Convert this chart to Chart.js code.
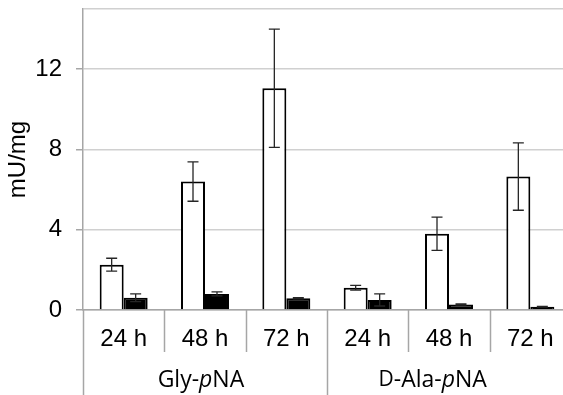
<!DOCTYPE html>
<html>
<head>
<meta charset="utf-8">
<script src="https://cdn.jsdelivr.net/npm/chart.js@4"></script>
<style>
  html, body { margin: 0; padding: 0; background: #fff; overflow: hidden; }
  #myChart { display: block; }
</style>
</head>
<body>
<canvas id="myChart" width="575" height="395"></canvas>
<script>
// data
var hours = ['24 h', '48 h', '72 h', '24 h', '48 h', '72 h'];
var groups = ['Gly-pNA', 'D-Ala-pNA'];
var whiteValues = [2.26, 6.4, 11.05, 1.11, 3.8, 6.65];
var whiteErrors = [0.32, 0.98, 2.95, 0.12, 0.83, 1.68];
var blackValues = [0.61, 0.8, 0.58, 0.5, 0.28, 0.16];
var blackErrors = [0.19, 0.1, 0.03, 0.3, 0.03, 0.02];
var yTicks = [0, 4, 8, 12];
var yMax = 15;

var axisGrey = '#a6a6a6';
var gridGrey = '#d0d0d0';

// error bars, drawn through the y scale
var errorBars = {
  id: 'errorBars',
  afterDatasetsDraw: function(chart) {
    var ctx = chart.ctx;
    var y = chart.scales.y;
    var errs = [whiteErrors, blackErrors];
    ctx.save();
    ctx.strokeStyle = '#262626';
    ctx.lineWidth = 1.3;
    chart.data.datasets.forEach(function(ds, di) {
      var meta = chart.getDatasetMeta(di);
      meta.data.forEach(function(bar, i) {
        var v = ds.data[i];
        var e = errs[di][i];
        var top = y.getPixelForValue(v + e);
        var bot = y.getPixelForValue(Math.max(0, v - e));
        ctx.beginPath();
        ctx.moveTo(bar.x, top);
        ctx.lineTo(bar.x, bot);
        ctx.moveTo(bar.x - 5.5, top);
        ctx.lineTo(bar.x + 5.5, top);
        ctx.moveTo(bar.x - 5.5, bot);
        ctx.lineTo(bar.x + 5.5, bot);
        ctx.stroke();
      });
    });
    ctx.restore();
  }
};

// second level of the category axis
var groupAxis = {
  id: 'groupAxis',
  afterDraw: function(chart) {
    var ctx = chart.ctx;
    var x = chart.scales.x;
    var base = chart.chartArea.bottom;
    ctx.save();
    ctx.strokeStyle = axisGrey;
    ctx.lineWidth = 1.5;
    for (var i = 0; i <= hours.length; i++) {
      var px = Math.round(x.getPixelForValue(i - 0.5)) + 0.5;
      var end = (i % 3 === 0) ? chart.height : base + 42;
      ctx.beginPath();
      ctx.moveTo(px, base);
      ctx.lineTo(px, end);
      ctx.stroke();
    }
    ctx.fillStyle = '#000';
    ctx.textBaseline = 'middle';
    var ly = base + 70;
    drawParts(ctx, [['Gly-', 'normal'], ['p', 'italic'], ['NA', 'normal']], x.getPixelForValue(0.95), ly);
    drawParts(ctx, [['D', 'small'], ['-Ala-', 'normal'], ['p', 'italic'], ['NA', 'normal']], x.getPixelForValue(3.8), ly);
    ctx.restore();
  }
};

function partFont(style) {
  if (style === 'italic') return 'italic 23px "Open Sans"';
  if (style === 'small') return '21px "Open Sans"';
  return '23px "Open Sans"';
}

function drawParts(ctx, parts, cx, cy) {
  var w = 0;
  parts.forEach(function(p) {
    ctx.font = partFont(p[1]);
    w += ctx.measureText(p[0]).width;
  });
  var px = cx - w / 2;
  ctx.textAlign = 'left';
  parts.forEach(function(p) {
    ctx.font = partFont(p[1]);
    ctx.fillText(p[0], px, cy);
    px += ctx.measureText(p[0]).width;
  });
}

var data1 = {
  labels: hours,
  datasets: [
    {
      label: 'white',
      data: whiteValues,
      backgroundColor: '#ffffff',
      borderColor: '#000000',
      borderWidth: 2
    },
    {
      label: 'black',
      data: blackValues,
      backgroundColor: '#000000',
      borderColor: '#000000',
      borderWidth: 2
    }
  ]
};

var config1 = {
  type: 'bar',
  data: data1,
  options: {
    responsive: false,
    animation: false,
    devicePixelRatio: 1,
    layout: { padding: { top: 9, right: 4, left: 0, bottom: 0 } },
    datasets: {
      bar: { categoryPercentage: 0.59, barPercentage: 1 }
    },
    plugins: {
      legend: { display: false },
      tooltip: { enabled: false }
    },
    scales: {
      x: {
        offset: true,
        grid: { display: false, drawTicks: false },
        border: { color: axisGrey, width: 1.5 },
        ticks: {
          color: '#000',
          padding: 15,
          font: { family: '"Liberation Sans", Arial', size: 24 },
          maxRotation: 0
        },
        afterFit: function(scale) {
          scale.height = 85;
          scale.paddingLeft = 0;
          scale.paddingRight = 0;
        }
      },
      y: {
        min: 0,
        max: yMax,
        afterBuildTicks: function(scale) {
          scale.ticks = yTicks.concat([yMax]).map(function(v) { return { value: v }; });
        },
        ticks: {
          color: '#000',
          padding: 14,
          font: { family: '"Liberation Sans", Arial', size: 24 },
          callback: function(v) { return yTicks.indexOf(v) >= 0 ? String(v) : ''; }
        },
        grid: {
          color: gridGrey,
          lineWidth: 1.5,
          tickLength: 7,
          tickColor: function(c) { return c.tick && c.tick.value === yMax ? 'rgba(0,0,0,0)' : axisGrey; }
        },
        border: { color: axisGrey, width: 1.5 },
        title: {
          display: true,
          text: 'mU/mg',
          color: '#000',
          padding: { top: 4, bottom: 0 },
          font: { family: '"Liberation Sans", Arial', size: 24 }
        },
        afterFit: function(scale) {
          scale.width = 83;
          scale.paddingTop = 0;
          scale.paddingBottom = 0;
        }
      }
    }
  },
  plugins: [errorBars, groupAxis]
};

var g_principal = document.getElementById('myChart');
var myChart1 = new Chart(g_principal, config1);
</script>
</body>
</html>
